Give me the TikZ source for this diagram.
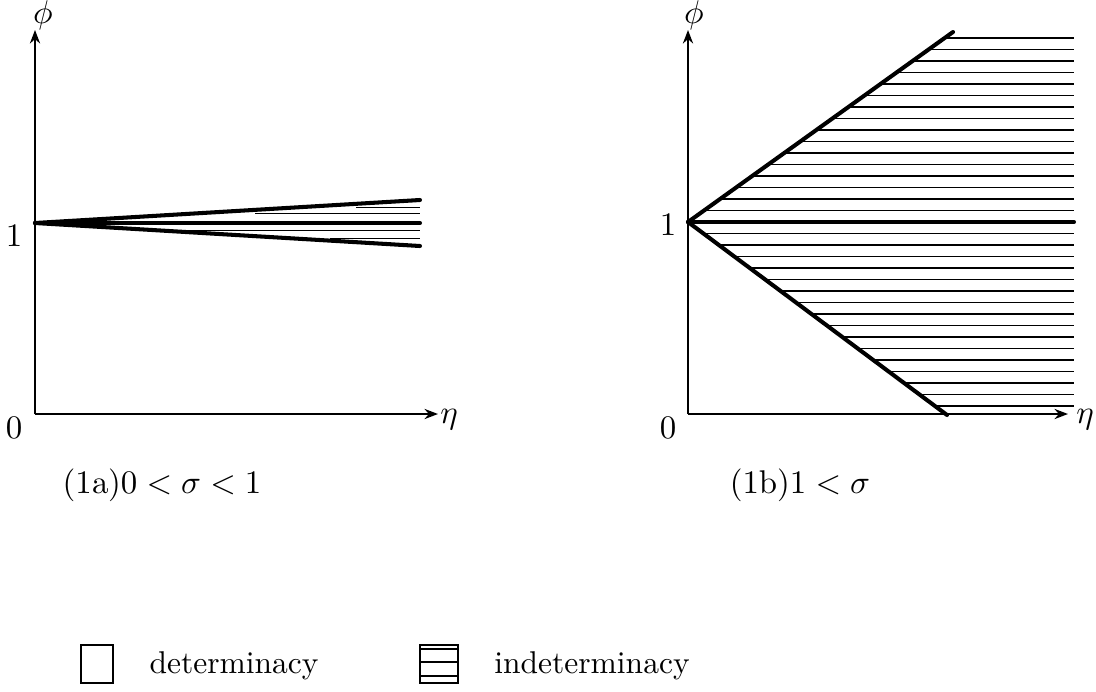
\documentclass[tikz,border=0pt]{standalone}
\usetikzlibrary{arrows.meta}
\begin{document}
\begin{tikzpicture}[x=0.3333pt,y=-0.3333pt,
  axis/.style={line width=0.65pt,-{Stealth[length=4.5pt,width=3.4pt]}},
  bound/.style={line width=1.35pt,line cap=round},
  hatch/.style={line width=0.45pt},
  lbl/.style={inner sep=0pt,anchor=center,font=\fontsize{10.5}{12.6}\selectfont}]
\useasboundingbox (0,0) rectangle (1096,691);
% ---------- left plot ----------
\coordinate (LO) at (35,414);
\coordinate (LV) at (35,223);
\coordinate (LYT) at (35,30);
\coordinate (LXT) at (438,414);
\draw[axis] (LO) -- (LYT);
\draw[line width=0.65pt] (LO) -- (LV);
\draw[axis] (LO) -- (LXT);
\coordinate (LU) at (420,200);
\coordinate (LM) at (420,223);
\coordinate (LL) at (420,246);
\draw[hatch] (356,207.3) -- (420,207.3);
\draw[hatch] (255,213.3) -- (420,213.3);
\draw[hatch] (175,230.7) -- (420,230.7);
\draw[hatch] (330,238.5) -- (420,238.5);
\draw[bound] (LV) -- (LU);
\draw[bound] (LV) -- (LM);
\draw[bound] (LV) -- (LL);
\node[lbl] (lphi) at (43,15) {$\phi$};
\node[lbl] (lone) at (14,236) {$1$};
\node[lbl] (lzero) at (14,428) {$0$};
\node[lbl] (leta) at (449,420) {$\eta$};
\node[lbl] (lcap) at (162,485) {$(1\mathrm{a})0<\sigma<1$};
% ---------- right plot ----------
\coordinate (RO) at (688,414);
\coordinate (RV) at (688,222);
\coordinate (RYT) at (688,30);
\coordinate (RXT) at (1068,414);
\draw[axis] (RO) -- (RYT);
\draw[axis] (RO) -- (RXT);
\foreach \k in {1,...,16}{
  \draw[hatch] ({688+16.04*\k},{222-11.5*\k}) -- (1074,{222-11.5*\k});
  \draw[hatch] ({688+15.43*\k},{222+11.5*\k}) -- (1074,{222+11.5*\k});
}
\coordinate (RU) at (953,32);
\coordinate (RM) at (1074,222);
\coordinate (RL) at (947,415);
\draw[bound] (RV) -- (RU);
\draw[bound] (RV) -- (RM);
\draw[bound] (RV) -- (RL);
\node[lbl] (rphi) at (694,15) {$\phi$};
\node[lbl] (rone) at (668,225) {$1$};
\node[lbl] (rzero) at (668,428) {$0$};
\node[lbl] (reta) at (1085,420) {$\eta$};
\node[lbl] (rcap) at (800,485) {$(1\mathrm{b})1<\sigma$};
% ---------- legend ----------
\draw[line width=0.5pt] (81,645) rectangle (113,683);
\node[lbl] (ldet) at (234,666) {determinacy};
\draw[line width=0.5pt] (420,645) rectangle (458,683);
\draw[line width=0.5pt] (420,649) -- (458,649);
\draw[line width=0.5pt] (420,662) -- (458,662);
\draw[line width=0.5pt] (420,676) -- (458,676);
\node[lbl] (lind) at (592,666) {indeterminacy};
\end{tikzpicture}
\end{document}
